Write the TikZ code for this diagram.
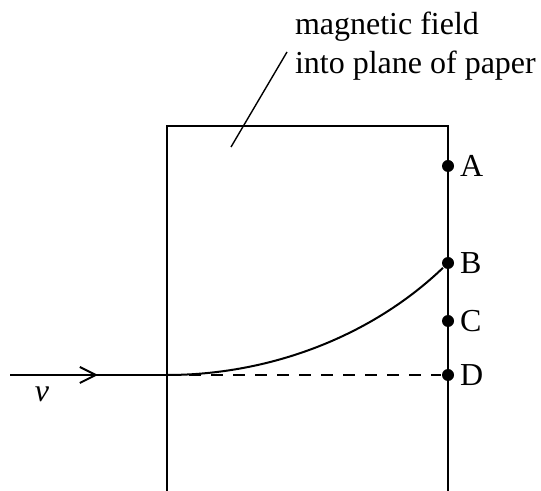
\documentclass[tikz,border=0pt]{standalone}
\usepackage{fontspec}
\setmainfont{Liberation Serif}
\usetikzlibrary{arrows.meta}
\begin{document}
\begin{tikzpicture}[x=0.5pt,y=-0.5pt,line width=1pt,
  every node/.style={font=\fontsize{16}{19.5}\selectfont, inner sep=0pt},
  pt/.style={circle, fill=black, minimum size=6pt, inner sep=0pt},
  lbl/.style={anchor=west}]
\useasboundingbox (0,0) rectangle (541,491);
% field region
\coordinate (BL) at (167,491);
\coordinate (TL) at (167,126);
\coordinate (TR) at (448,126);
\coordinate (BR) at (448,491);
\draw (BL) -- (TL) -- (TR) -- (BR);
% points
\node[pt] (A) at (448,166) {};
\node[pt] (B) at (448,263) {};
\node[pt] (C) at (448,321) {};
\node[pt] (D) at (448,375) {};
\node[lbl] at (459,166) {A};
\node[lbl] at (459,263) {B};
\node[lbl] at (459,321) {C};
\node[lbl] at (459,375) {D};
% incoming path
\coordinate (S) at (10,375);
\coordinate (E) at (167,375);
\draw (S) -- (E);
\draw[-{Straight Barb[length=8pt,width=8pt,line width=1pt]}] (S) -- (98,375);
\node at (42,394) {\itshape v};
% curve
\draw (E) .. controls (272,375) and (373,335) .. (B);
% dashed
\draw[dash pattern=on 6pt off 5pt] (E) -- (D);
% label
\node[align=left, anchor=north west] (lab) at (294,11) {magnetic field\\into plane of paper};
\coordinate (L1) at (231,147);
\coordinate (L2) at (287,52);
\draw[line width=0.7pt] (L1) -- (L2);
\end{tikzpicture}
\end{document}
